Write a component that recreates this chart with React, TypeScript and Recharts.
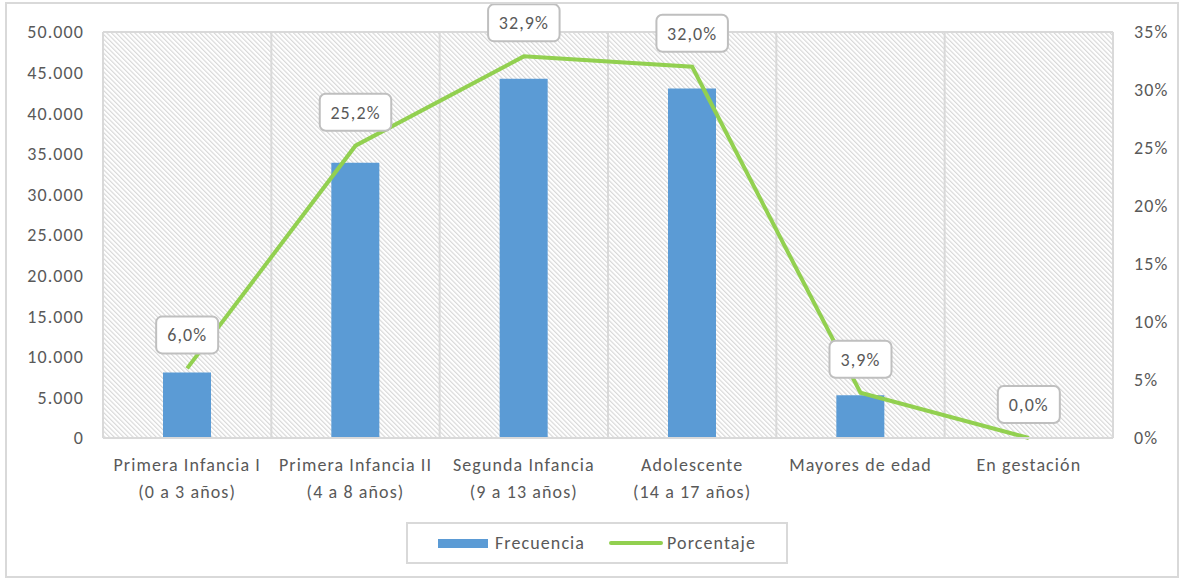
import { ComposedChart, Bar, Line, XAxis, YAxis, CartesianGrid, Legend, LabelList } from 'recharts'

const categories = ['Primera Infancia I', 'Primera Infancia II', 'Segunda Infancia', 'Adolescente', 'Mayores de edad', 'En gestación']
const ageRanges = ['(0 a 3 años)', '(4 a 8 años)', '(9 a 13 años)', '(14 a 17 años)', '', '']
const frecuencia = [8070, 33890, 44250, 43040, 5250, 20]
const porcentaje = [0.06, 0.252, 0.329, 0.32, 0.039, 0.0]
const leftTicks = [0, 5000, 10000, 15000, 20000, 25000, 30000, 35000, 40000, 45000, 50000]
const rightTicks = [0, 0.05, 0.1, 0.15, 0.2, 0.25, 0.3, 0.35]

const data = categories.map((name, i) => ({
  name,
  range: ageRanges[i],
  frecuencia: frecuencia[i],
  porcentaje: porcentaje[i],
}))

const FONT = 'Carlito, Calibri, Lato, sans-serif'
const TEXT = '#595959'
const GRID = '#d9d9d9'
const FS = 18
const LS = 1.1

const fmtThousands = (v: number) => String(v).replace(/\B(?=(\d{3})+(?!\d))/g, '.')
const fmtPct = (v: number) => (v * 100).toFixed(1).replace('.', ',') + '%'

function XTick({ x, y, payload, index }: any) {
  return (
    <g>
      <text x={x} y={y + 25} textAnchor="middle" fill={TEXT} fontSize={FS} letterSpacing={LS} fontFamily={FONT}>
        {payload.value}
      </text>
      <text x={x} y={y + 52} textAnchor="middle" fill={TEXT} fontSize={FS} letterSpacing={LS} fontFamily={FONT}>
        {ageRanges[index]}
      </text>
    </g>
  )
}

function PctLabel({ x, y, value }: any) {
  const label = fmtPct(value)
  const w = 24 + label.length * 9.5
  return (
    <g>
      <rect x={x - w / 2} y={y - 52} width={w} height={37} rx={6} fill="#fff" stroke="#bfbfbf" strokeWidth={2} />
      <text x={x} y={y - 33} textAnchor="middle" dominantBaseline="central" fill={TEXT} fontSize={FS} letterSpacing={LS} fontFamily={FONT}>
        {label}
      </text>
    </g>
  )
}

function LegendBox() {
  return (
    <div
      style={{
        width: 378,
        height: 38,
        margin: '0 auto',
        position: 'relative',
        left: 5,
        border: '2px solid ' + GRID,
        display: 'flex',
        alignItems: 'center',
        justifyContent: 'center',
        fontFamily: FONT,
        fontSize: FS,
        letterSpacing: LS,
        color: TEXT,
      }}
    >
      <span style={{ display: 'inline-block', width: 50, height: 9, background: '#5B9BD5', marginRight: 7 }} />
      <span style={{ marginRight: 24 }}>Frecuencia</span>
      <span style={{ display: 'inline-block', width: 54, height: 4, borderRadius: 2, background: '#92D050', marginRight: 4 }} />
      <span>Porcentaje</span>
    </div>
  )
}

export default function App() {
  return (
    <div
      style={{
        position: 'absolute',
        left: 5,
        top: 2,
        width: 1170,
        height: 572,
        border: '2px solid ' + GRID,
        background: '#fff',
      }}
    >
      <ComposedChart width={1170} height={572} data={data} margin={{ top: 28, right: 0, left: 0, bottom: 14 }}>
        <defs>
          <pattern id="hatch" width="3.3" height="6" patternUnits="userSpaceOnUse" patternTransform="rotate(-45)">
            <line x1="0.6" y1="0" x2="0.6" y2="6" stroke="#d6d6d6" strokeWidth="1.1" />
          </pattern>
        </defs>
        <CartesianGrid
          fill="url(#hatch)"
          stroke={GRID}
          strokeWidth={2}
          verticalCoordinatesGenerator={({ offset }: any) =>
            categories.map((_, i) => offset.left + (i * offset.width) / categories.length).concat(offset.left + offset.width)
          }
        />
        <XAxis
          dataKey="name"
          height={84}
          axisLine={{ stroke: GRID, strokeWidth: 2 }}
          tickLine={false}
          tick={<XTick />}
          interval={0}
        />
        <YAxis
          yAxisId="left"
          width={96}
          domain={[0, 50000]}
          ticks={leftTicks}
          tickFormatter={fmtThousands}
          axisLine={false}
          tickLine={false}
          tick={{ fill: TEXT, fontSize: FS, fontFamily: FONT, letterSpacing: LS }}
          tickMargin={13}
        />
        <YAxis
          yAxisId="right"
          orientation="right"
          width={64}
          domain={[0, 0.35]}
          ticks={rightTicks}
          tickFormatter={(v: number) => Math.round(v * 100) + '%'}
          axisLine={false}
          tickLine={false}
          tick={{ fill: TEXT, fontSize: FS, fontFamily: FONT, letterSpacing: LS }}
          tickMargin={15}
        />
        <Bar yAxisId="left" dataKey="frecuencia" name="Frecuencia" fill="#5B9BD5" barSize={48} isAnimationActive={false} />
        <Line
          yAxisId="right"
          dataKey="porcentaje"
          name="Porcentaje"
          type="linear"
          stroke="#92D050"
          strokeWidth={4}
          dot={false}
          activeDot={false}
          isAnimationActive={false}
        >
          <LabelList dataKey="porcentaje" content={<PctLabel />} />
        </Line>
        <Legend verticalAlign="bottom" height={40} content={<LegendBox />} />
      </ComposedChart>
    </div>
  )
}
